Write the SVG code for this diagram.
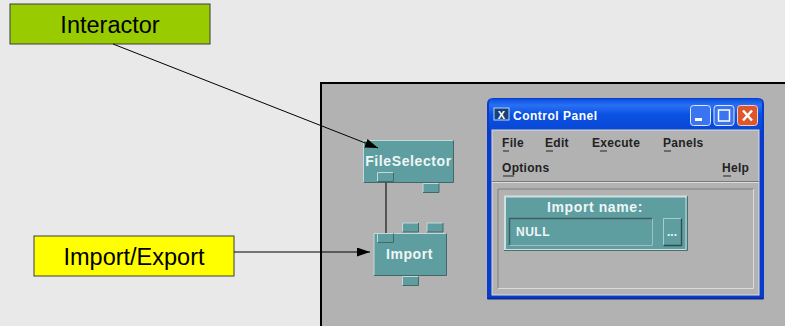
<svg xmlns="http://www.w3.org/2000/svg" width="785" height="326" viewBox="0 0 785 326">
<style>
.lbl{font-family:"Liberation Sans",Arial,sans-serif;font-size:23.5px;fill:#000;text-anchor:middle}
.box{stroke:#3c3c3c;stroke-width:1}
.mod{fill:#5f9ea0}
.hl{fill:none;stroke:#c4d8d8;stroke-width:1}
.sh{fill:none;stroke:#44686a;stroke-width:1}
.modt{font-family:"Liberation Sans",Arial,sans-serif;font-size:14px;font-weight:bold;fill:#eef6f6;text-anchor:middle;letter-spacing:.6px}
.menu{font-family:"Liberation Sans",Arial,sans-serif;font-size:12px;font-weight:bold;fill:#222;letter-spacing:.3px}
.ul{stroke:#222;stroke-width:1}
.conn{stroke:#000;stroke-width:1;fill:none}
</style>
<defs>
<marker id="ah" markerWidth="14" markerHeight="10" refX="13" refY="4.500" orient="auto" markerUnits="userSpaceOnUse"><path d="M0,0L13,4.500L0,9Z" fill="#000"/></marker>
<linearGradient id="tb" x1="0" y1="0" x2="0" y2="1"><stop offset="0" stop-color="#0a4fe0"/><stop offset=".2" stop-color="#2a70f4"/><stop offset=".5" stop-color="#0a52e4"/><stop offset="1" stop-color="#0a46d4"/></linearGradient>
<g id="tab"><rect width="16" height="9" class="mod"/><path d="M0,9V0H16" class="hl"/><path d="M16,0V9H0" class="sh"/></g>
</defs>
<rect width="785" height="326" fill="#e9e9e9"/>
<g id="canvas"><rect x="321" y="83" width="470" height="250" fill="#b2b2b2" stroke="#000" stroke-width="2"/></g>

<g id="control-panel">
<path d="M487,299V104Q487,98 493,98H758Q764,98 764,104V299Z" fill="#0a3ccc"/>
<path d="M487.500,298.500H763.500" stroke="#0a2a9c" stroke-width="2"/>
<rect x="489" y="99" width="273" height="31" rx="3" fill="url(#tb)"/>
<rect x="492" y="130" width="267" height="165" fill="#b2b2b2" stroke="#dcdcdc"/>
<rect x="494" y="108" width="15" height="12" fill="#18407c" stroke="#b8d8f0"/>
<text x="501.500" y="118.500" font-family="Liberation Sans,sans-serif" font-size="11" font-weight="bold" fill="#fff" text-anchor="middle">X</text>
<text x="513" y="120" font-family="Liberation Sans,sans-serif" font-size="12" font-weight="bold" fill="#fff" letter-spacing=".5">Control Panel</text>
<rect x="690.500" y="105.500" width="20" height="20" rx="3" fill="#3a74f0" stroke="#dfe8ff"/>
<rect x="695" y="118" width="7" height="3" fill="#fff"/>
<rect x="714" y="105.500" width="20" height="20" rx="3" fill="#3a74f0" stroke="#dfe8ff"/>
<rect x="718.500" y="110" width="11" height="11" fill="none" stroke="#fff" stroke-width="1.500"/>
<rect x="737.500" y="105.500" width="20" height="20" rx="3" fill="#e0562c" stroke="#f0d0c0"/>
<path d="M743,110.500L752,120.500M752,110.500L743,120.500" stroke="#fff" stroke-width="2.500"/>
<text class="menu" x="502" y="147">File</text><line class="ul" x1="503" y1="151" x2="509" y2="151"/>
<text class="menu" x="545" y="147">Edit</text><line class="ul" x1="546" y1="151" x2="553" y2="151"/>
<text class="menu" x="592" y="147">Execute</text><line class="ul" x1="600" y1="151" x2="607" y2="151"/>
<text class="menu" x="663" y="147">Panels</text><line class="ul" x1="664" y1="151" x2="671" y2="151"/>
<text class="menu" x="502" y="172">Options</text><line class="ul" x1="503" y1="176" x2="514" y2="176"/>
<text class="menu" x="722" y="172">Help</text><line class="ul" x1="723" y1="176" x2="731" y2="176"/>
<line x1="492" y1="181.500" x2="759" y2="181.500" stroke="#7a7a7a"/>
<line x1="492" y1="182.500" x2="759" y2="182.500" stroke="#dcdcdc"/>
<path d="M498,288.500V189H753.500" fill="none" stroke="#7e7e7e"/>
<path d="M498,288.500H753.500V189" fill="none" stroke="#dcdcdc"/>
<g id="import-name">
<rect x="504" y="196" width="183" height="54" class="mod"/>
<path d="M505,250V196.500H687" fill="none" stroke="#d0e0e0" stroke-width="2"/>
<path d="M505,249.500H686V196" fill="none" stroke="#d0e0e0" stroke-width="1"/>
<path d="M504,250.500H687.500V196" fill="none" stroke="#4c6e6e"/>
<text class="modt" x="595" y="212">Import name:</text>
<path d="M509.500,245V218.500H652.500" fill="none" stroke="#3f6062" stroke-width="1.500"/>
<path d="M509.500,245.500H652.500V218.500" fill="none" stroke="#9cc0c0"/>
<text x="516" y="236" font-family="Liberation Sans,sans-serif" font-size="12" font-weight="bold" fill="#eef6f6" letter-spacing=".5">NULL</text>
<path d="M663.500,245.500V218.500H681.500" fill="none" stroke="#a8cccc"/>
<path d="M681.500,218.500V245.500H663.500" fill="none" stroke="#2e4c4e" stroke-width="1.300"/>
<text x="672" y="236" font-family="Liberation Sans,sans-serif" font-size="12" font-weight="bold" fill="#eef6f6" text-anchor="middle">...</text>
</g>
</g>

<g id="interactor"><rect x="10" y="4" width="200" height="40" fill="#99cc00" class="box"/><text class="lbl" x="110" y="33">Interactor</text></g>
<g id="import-export"><rect x="34" y="236" width="200" height="40" fill="#ffff00" class="box"/><text class="lbl" x="134" y="265">Import/Export</text></g>

<g id="fileselector">
<rect x="363.500" y="140.500" width="90" height="42" class="mod"/>
<path d="M363.500,182V140.500H453" class="hl"/><path d="M453.500,140.500V182.500H364" class="sh"/>
<text class="modt" x="408.500" y="166">FileSelector</text>
<use href="#tab" x="377.500" y="172.500"/>
<use href="#tab" x="423" y="183.500"/>
</g>
<g id="import">
<rect x="374" y="233.500" width="72.500" height="42" class="mod"/>
<path d="M374,275V233.500H446" class="hl"/><path d="M446.500,233.500V275.500H374" class="sh"/>
<text class="modt" x="409.500" y="259">Import</text>
<use href="#tab" x="402.500" y="223"/>
<use href="#tab" x="427" y="223"/>
<use href="#tab" x="377.500" y="233.500"/>
<use href="#tab" x="402.500" y="276.500"/>
</g>

<g id="connectors">
<line x1="386" y1="182" x2="386" y2="233" stroke="#555" stroke-width="2"/>
<line class="conn" x1="113" y1="44" x2="378" y2="148" marker-end="url(#ah)"/>
<line class="conn" x1="234" y1="252" x2="370" y2="252" marker-end="url(#ah)"/>
</g>
</svg>
